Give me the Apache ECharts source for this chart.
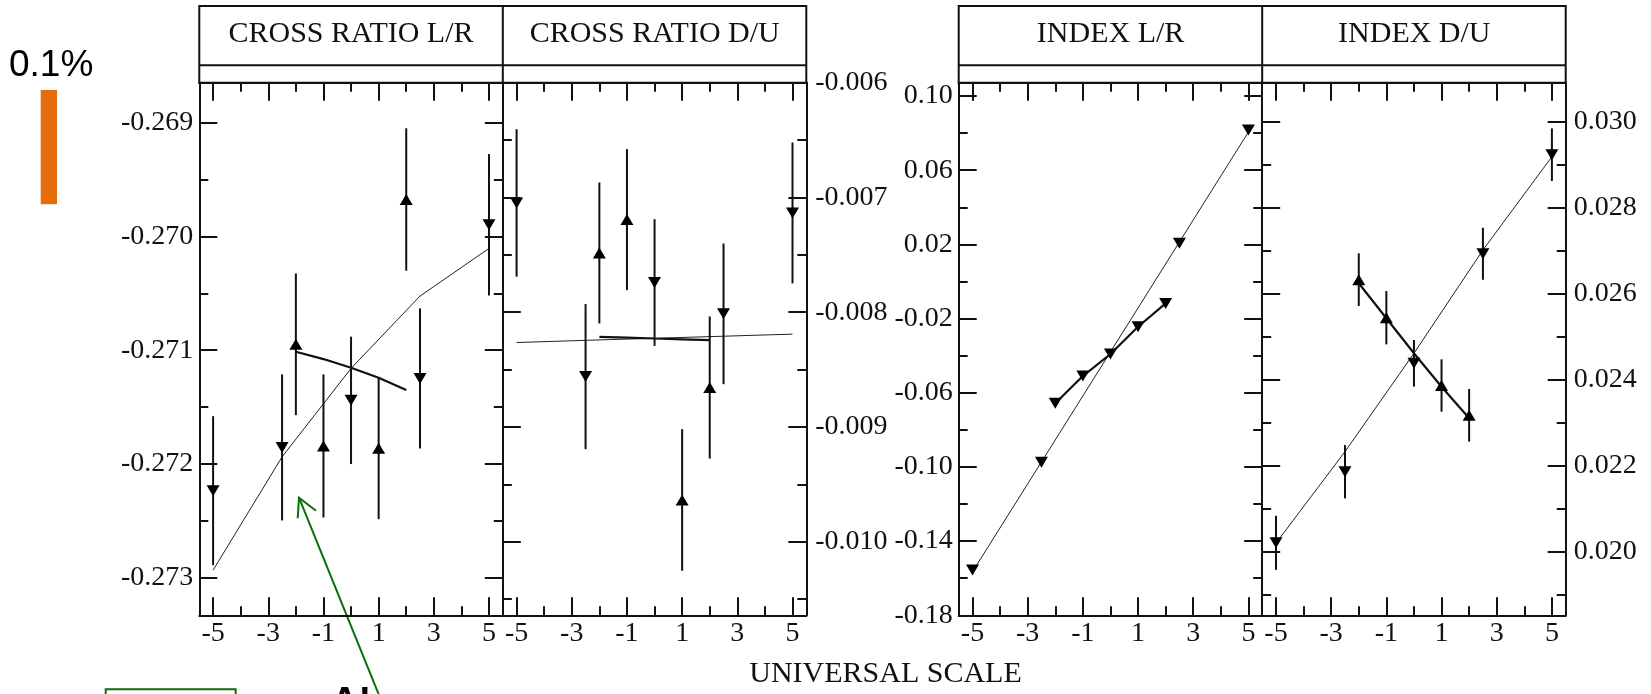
<!DOCTYPE html>
<html><head><meta charset="utf-8">
<script src="https://cdn.jsdelivr.net/npm/echarts@6/dist/echarts.min.js"></script>
<style>html,body{margin:0;padding:0;background:#fff}#c{width:1651px;height:694px}</style>
</head><body><div id="c"></div>
<script>
// ---------- data ----------
const titles = ['CROSS RATIO L/R', 'CROSS RATIO D/U', 'INDEX L/R', 'INDEX D/U'];
const axisTitle = 'UNIVERSAL SCALE';
const scaleNote = '0.1%';
const noteText = 'A!';

const xDown = [-5, -2.5, 0, 2.5, 5];
const xUp = [-2, -1, 1, 2];
const xUpFit = [-2, -1, 0, 1, 2];
const xTickMajor = [-5, -3, -1, 1, 3, 5];
const xTickMinor = [-4, -2, 0, 2, 4];

// CROSS RATIO L/R
const crLRDown = [-0.272235, -0.271855, -0.271441, -0.271248, -0.269897];
const crLRDownErr = [0.000655, 0.000642, 0.000560, 0.000616, 0.000622];
const crLRUp = [-0.270948, -0.271842, -0.271863, -0.269675];
const crLRUpErr = [0.000623, 0.000629, 0.000623, 0.000626];
const crLRDownFit = [-0.272934, -0.271938, -0.271160, -0.270524, -0.270105];
const crLRUpFit = [-0.271014, -0.271078, -0.271155, -0.271243, -0.271351];
const crLRYTicks = [-0.273, -0.272, -0.271, -0.270, -0.269];
const crLRYMinor = [-0.2725, -0.2715, -0.2705, -0.2695];

// CROSS RATIO D/U
const crDUDown = [-0.007048, -0.008561, -0.007741, -0.008014, -0.007135];
const crDUDownErr = [0.000643, 0.000632, 0.000552, 0.000613, 0.000614];
const crDUUp = [-0.007484, -0.007193, -0.009636, -0.008656];
const crDUUpErr = [0.000614, 0.000614, 0.000617, 0.000619];
const crDUDownFit = [-0.008264, -0.008245, -0.008227, -0.008209, -0.008191];
const crDUUpFit = [-0.008214, -0.008221, -0.008229, -0.008236, -0.008243];
const crDUYTicks = [-0.010, -0.009, -0.008, -0.007, -0.006];
const crDUYMinor = [-0.0105, -0.0095, -0.0085, -0.0075, -0.0065];

// INDEX L/R
const idxLRDown = [-0.1556, -0.0975, -0.0391, 0.0206, 0.0817];
const idxLRDownErr = [0, 0, 0, 0, 0];
const idxLRUp = [-0.0657, -0.0510, -0.0244, -0.0118];
const idxLRUpErr = [0, 0, 0, 0];
const idxLRDownFit = [-0.1565, -0.0973, -0.0380, 0.0213, 0.0806];
const idxLRUpFit = [-0.0657, -0.0510, -0.0391, -0.0244, -0.0118];
const idxLRYTicks = [-0.18, -0.14, -0.10, -0.06, -0.02, 0.02, 0.06, 0.10];
const idxLRYMinor = [-0.16, -0.12, -0.08, -0.04, 0, 0.04, 0.08];

// INDEX D/U
const idxDUDown = [0.020207, 0.021860, 0.024381, 0.026928, 0.029233];
const idxDUDownErr = [0.000628, 0.000620, 0.000542, 0.000605, 0.000612];
const idxDUUp = [0.026326, 0.025442, 0.023865, 0.023172];
const idxDUUpErr = [0.000612, 0.000620, 0.000609, 0.000612];
const idxDUDownFit = [0.020200, 0.022326, 0.024614, 0.027016, 0.029186];
const idxDUUpFit = [0.026242, 0.025428, 0.024614, 0.023837, 0.023102];
const idxDUYTicks = [0.020, 0.022, 0.024, 0.026, 0.028, 0.030];
const idxDUYMinor = [0.019, 0.021, 0.023, 0.025, 0.027, 0.029];

// ---------- layout ----------
const SERIF = '"Liberation Serif", "Times New Roman", serif';
const INK = '#111';
const GT = 82.7, GH = 532.6, GW = 303.5;
const panels = [
  {left: 199.3, yMin: -0.273331, yMax: -0.268648, major: crLRYTicks, minor: crLRYMinor, side: 'left', dec: 3, margin: 6,
   down: crLRDown, downErr: crLRDownErr, up: crLRUp, upErr: crLRUpErr, downFit: crLRDownFit, upFit: crLRUpFit, upSym: 'up'},
  {left: 502.8, yMin: -0.010641, yMax: -0.006, major: crDUYTicks, minor: crDUYMinor, side: 'right', dec: 3, margin: 9,
   down: crDUDown, downErr: crDUDownErr, up: crDUUp, upErr: crDUUpErr, downFit: crDUDownFit, upFit: crDUUpFit, upSym: 'up'},
  {left: 958.7, yMin: -0.18, yMax: 0.1072, major: idxLRYTicks, minor: idxLRYMinor, side: 'left', dec: 2, margin: 6,
   down: idxLRDown, downErr: idxLRDownErr, up: idxLRUp, upErr: idxLRUpErr, downFit: idxLRDownFit, upFit: idxLRUpFit, upSym: 'down'},
  {left: 1262.2, yMin: 0.018521, yMax: 0.030907, major: idxDUYTicks, minor: idxDUYMinor, side: 'right', dec: 3, margin: 8,
   down: idxDUDown, downErr: idxDUDownErr, up: idxDUUp, upErr: idxDUUpErr, downFit: idxDUDownFit, upFit: idxDUUpFit, upSym: 'up'}
];

const grid = [], xAxis = [], yAxis = [], series = [];
const lineStyle = {color: INK, width: 2};

panels.forEach((p, i) => {
  grid.push({left: p.left, top: GT, width: GW, height: GH, containLabel: false, outerBoundsMode: 'none'});
  const xBase = xAxis.length, yBase = yAxis.length;
  const mkX = (pos, ticks, len, showLine, showLabel) => ({
    type: 'value', gridIndex: i, min: -5.5, max: 5.5, position: pos,
    axisLine: {show: showLine, onZero: false, lineStyle},
    axisTick: {show: true, inside: true, length: len, customValues: ticks, lineStyle},
    axisLabel: {show: showLabel, customValues: ticks, fontFamily: SERIF, fontSize: 28, color: INK, margin: 4},
    splitLine: {show: false}
  });
  xAxis.push(mkX('bottom', xTickMajor, 18, true, true));
  xAxis.push(mkX('bottom', xTickMinor, 9, false, false));
  xAxis.push(mkX('top', xTickMajor, 18, true, false));
  xAxis.push(mkX('top', xTickMinor, 9, false, false));
  const mkY = (pos, ticks, len, showLine, showLabel) => ({
    type: 'value', gridIndex: i, min: p.yMin, max: p.yMax, position: pos,
    axisLine: {show: showLine, onZero: false, lineStyle},
    axisTick: {show: true, inside: true, length: len, customValues: ticks, lineStyle},
    axisLabel: {show: showLabel, customValues: ticks, fontFamily: SERIF, fontSize: 28, color: INK, margin: p.margin,
      formatter: v => Number(v).toFixed(p.dec)},
    splitLine: {show: false}
  });
  yAxis.push(mkY('left', p.major, 18, true, p.side === 'left'));
  yAxis.push(mkY('left', p.minor, 9, false, false));
  yAxis.push(mkY('right', p.major, 18, true, p.side === 'right'));
  yAxis.push(mkY('right', p.minor, 9, false, false));

  const ax = {xAxisIndex: xBase, yAxisIndex: yBase};
  const errBar = (xs, ys, es) => Object.assign({
    type: 'custom', silent: true, z: 3,
    data: xs.map((x, k) => [x, ys[k], es[k]]),
    encode: {x: 0, y: 1},
    renderItem: (params, api) => {
      const x = api.value(0), y = api.value(1), e = api.value(2);
      if (!e) return null;
      const a = api.coord([x, y + e]), b = api.coord([x, y - e]);
      return {type: 'line', shape: {x1: a[0], y1: a[1], x2: b[0], y2: b[1]}, style: {stroke: INK, lineWidth: 2}};
    }
  }, ax);
  series.push(errBar(xDown, p.down, p.downErr));
  series.push(errBar(xUp, p.up, p.upErr));
  series.push(Object.assign({type: 'line', data: xDown.map((x, k) => [x, p.downFit[k]]), symbol: 'none',
    lineStyle: {color: '#222', width: 1}, z: 2, silent: true}, ax));
  series.push(Object.assign({type: 'line', data: xUpFit.map((x, k) => [x, p.upFit[k]]), symbol: 'none',
    lineStyle: {color: INK, width: 2.2}, z: 2, silent: true}, ax));
  series.push(Object.assign({type: 'scatter', data: xDown.map((x, k) => [x, p.down[k]]), symbol: 'triangle',
    symbolRotate: 180, symbolSize: [13, 11], itemStyle: {color: '#000', opacity: 1}, z: 4, silent: true}, ax));
  series.push(Object.assign({type: 'scatter', data: xUp.map((x, k) => [x, p.up[k]]), symbol: 'triangle',
    symbolRotate: p.upSym === 'up' ? 0 : 180, symbolSize: [13, 11], itemStyle: {color: '#000', opacity: 1}, z: 4, silent: true}, ax));
});

// ---------- header boxes and annotations ----------
const graphic = [];
const boxStroke = {fill: 'none', stroke: INK, lineWidth: 2};
[[199.3, 806.3, 502.8], [958.7, 1565.7, 1262.2]].forEach(([l, r, mid]) => {
  graphic.push({type: 'rect', shape: {x: l, y: 6, width: r - l, height: GT - 6}, style: boxStroke});
  graphic.push({type: 'line', shape: {x1: l, y1: 65.3, x2: r, y2: 65.3}, style: {stroke: INK, lineWidth: 2}});
  graphic.push({type: 'line', shape: {x1: mid, y1: 6, x2: mid, y2: GT}, style: {stroke: INK, lineWidth: 2}});
});
const titleCenters = [351, 654.7, 1110.6, 1414.3];
titles.forEach((t, i) => graphic.push({type: 'text', x: titleCenters[i], y: 34,
  style: {text: t, font: '30px ' + SERIF, fill: INK, align: 'center', verticalAlign: 'middle', textAlign: 'center', textVerticalAlign: 'middle'}}));
graphic.push({type: 'text', x: 885.5, y: 674,
  style: {text: axisTitle, font: '30px ' + SERIF, fill: INK, align: 'center', verticalAlign: 'middle', textAlign: 'center', textVerticalAlign: 'middle'}});
// scale note
graphic.push({type: 'text', x: 9, y: 66,
  style: {text: scaleNote, font: '37px "Liberation Sans", Arial, sans-serif', fill: '#000', align: 'left', verticalAlign: 'middle', textAlign: 'left', textVerticalAlign: 'middle'}});
graphic.push({type: 'rect', shape: {x: 40.7, y: 90, width: 16.3, height: 114.3}, style: {fill: '#e46c0a'}});
// green arrow and box
const GREEN = '#0e6e0e';
graphic.push({type: 'line', shape: {x1: 381, y1: 700, x2: 299, y2: 497.7}, style: {stroke: GREEN, lineWidth: 2}});
graphic.push({type: 'polyline', shape: {points: [[316, 510.7], [299, 497.7], [297.7, 518.3]]}, style: {stroke: GREEN, lineWidth: 2, fill: 'none'}});
graphic.push({type: 'rect', shape: {x: 105.7, y: 689.3, width: 130, height: 30}, style: {fill: 'none', stroke: GREEN, lineWidth: 2}});
graphic.push({type: 'text', x: 331, y: 685,
  style: {text: noteText, font: 'bold 38px "Liberation Sans", Arial, sans-serif', fill: '#000', align: 'left', verticalAlign: 'top', textAlign: 'left', textVerticalAlign: 'top'}});

const chart = echarts.init(document.getElementById('c'), null, {renderer: 'canvas'});
chart.setOption({animation: false, backgroundColor: '#fff', grid, xAxis, yAxis, series, graphic});
</script></body></html>
